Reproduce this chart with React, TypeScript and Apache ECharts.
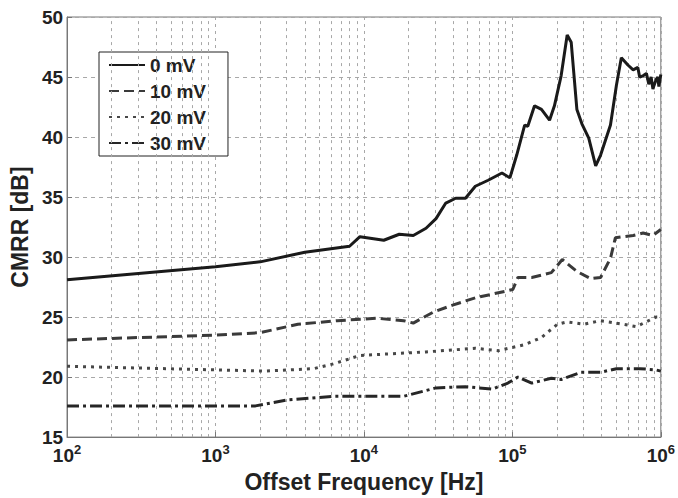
import React, { useEffect, useRef } from "react";
import * as echarts from "echarts";

const seriesNames = ["0 mV", "10 mV", "20 mV", "30 mV"];

const freq0 = [100, 1000, 2000, 4000, 8000, 9400, 13600, 17300, 21500, 26200, 30600, 35600, 41500, 48300, 56300, 68700, 85100, 96200, 107000, 121000, 127000, 141000, 157000, 178000, 192000, 213000, 234000, 249000, 272000, 294000, 327000, 364000, 393000, 458000, 502000, 542000, 600000, 651000, 700000, 720000, 759000, 800000, 830000, 860000, 885000, 900000, 930000, 955000, 970000, 1000000];
const cmrr0 = [28.1, 29.2, 29.6, 30.4, 30.9, 31.7, 31.4, 31.9, 31.8, 32.4, 33.2, 34.5, 34.9, 34.9, 35.9, 36.4, 37.0, 36.6, 38.5, 41.0, 40.9, 42.6, 42.3, 41.4, 42.6, 45.1, 48.5, 47.9, 42.3, 41.1, 39.9, 37.6, 38.5, 41.0, 44.3, 46.6, 46.0, 45.6, 45.8, 45.0, 45.1, 45.3, 44.4, 45.0, 44.0, 44.3, 44.8, 45.0, 44.2, 45.2];

const freq10 = [100, 1000, 2000, 3590, 6620, 12200, 18500, 21500, 29200, 39600, 56300, 93300, 100700, 109000, 135000, 183000, 217000, 272000, 338000, 393000, 458000, 494000, 560000, 651000, 760000, 885000, 1000000];
const cmrr10 = [23.1, 23.5, 23.7, 24.4, 24.7, 24.9, 24.7, 24.5, 25.4, 26.0, 26.6, 27.2, 27.3, 28.3, 28.3, 28.7, 29.8, 28.8, 28.2, 28.3, 29.9, 31.6, 31.7, 31.8, 32.0, 31.8, 32.3];

const freq20 = [100, 461, 2130, 4580, 6220, 9400, 26200, 56300, 80200, 121000, 157000, 201000, 234000, 303000, 393000, 559000, 683000, 927000, 1000000];
const cmrr20 = [20.9, 20.7, 20.5, 20.7, 21.1, 21.8, 22.1, 22.4, 22.2, 22.7, 23.3, 24.4, 24.6, 24.4, 24.7, 24.4, 24.2, 25.0, 25.0];

const freq30 = [100, 1860, 3080, 6310, 18500, 30600, 48300, 73100, 93300, 109000, 135000, 183000, 213000, 290000, 393000, 502000, 725000, 927000, 1000000];
const cmrr30 = [17.6, 17.6, 18.1, 18.4, 18.4, 19.1, 19.2, 19.0, 19.5, 20.0, 19.5, 19.9, 19.8, 20.4, 20.4, 20.7, 20.7, 20.6, 20.5];

const decades = [100, 1000, 10000, 100000];
const minorMultipliers = [2, 3, 4, 5, 6, 7, 8, 9];

const lineColors = ["#1a1a1a", "#3a3a3a", "#474747", "#262626"];
const dashTypes: any[] = ["solid", [10, 5], [3, 5], [12, 4, 3, 4]];

export default function App() {
  const ref = useRef<HTMLDivElement>(null);
  useEffect(() => {
    document.body.style.margin = "0";
    const chart = echarts.init(ref.current!, null, { renderer: "svg" });
    const font = "'Liberation Sans', Arial, sans-serif";
    const xs = [freq0, freq10, freq20, freq30];
    const ys = [cmrr0, cmrr10, cmrr20, cmrr30];
    const minorLines: any[] = [];
    decades.forEach((d) => {
      minorMultipliers.forEach((m) => minorLines.push({ xAxis: d * m }));
    });
    const series: any[] = seriesNames.map((name, i) => ({
      name,
      type: "line",
      data: xs[i].map((f, j) => [f, ys[i][j]]),
      symbol: "none",
      lineStyle: { color: lineColors[i], width: 3, type: dashTypes[i] },
      itemStyle: { color: lineColors[i] },
      z: 5,
    }));
    series.push({
      name: "minor",
      type: "line",
      data: [],
      silent: true,
      markLine: {
        silent: true,
        symbol: "none",
        label: { show: false },
        lineStyle: { color: "#a8a8a8", type: [3, 4], width: 1 },
        data: minorLines,
      },
    });
    chart.setOption({
      animation: false,
      backgroundColor: "#ffffff",
      grid: {
        left: 66,
        right: 10,
        top: 17,
        bottom: 57,
        show: true,
        borderColor: "#777",
        borderWidth: 1,
      },
      legend: {
        data: seriesNames,
        orient: "vertical",
        left: 99,
        top: 52,
        itemWidth: 36,
        itemHeight: 14,
        itemGap: 6,
        padding: [3, 22, 3, 9],
        backgroundColor: "#fff",
        borderColor: "#222",
        borderWidth: 1,
        borderRadius: 0,
        itemStyle: { opacity: 0, borderWidth: 0 },
        textStyle: { fontFamily: font, fontWeight: "bold", fontSize: 19, lineHeight: 20, color: "#222" },
      },
      xAxis: {
        type: "log",
        logBase: 10,
        min: 100,
        max: 1000000,
        name: "Offset Frequency [Hz]",
        nameLocation: "middle",
        nameGap: 23,
        nameTextStyle: { fontFamily: font, fontWeight: "bold", fontSize: 23, color: "#222" },
        axisLine: { lineStyle: { color: "#777", width: 1 } },
        axisTick: { inside: true, length: 5, lineStyle: { color: "#777" } },
        axisLabel: {
          margin: 6,
          formatter: (v: number) => `{b|10}{s|${Math.round(Math.log10(v))}}`,
          rich: {
            b: { fontFamily: font, fontWeight: "bold", fontSize: 19, color: "#222", lineHeight: 22, verticalAlign: "bottom" },
            s: { fontFamily: font, fontWeight: "bold", fontSize: 13, color: "#222", lineHeight: 13, verticalAlign: "top" },
          },
        },
        splitLine: { show: true, lineStyle: { color: "#a8a8a8", type: [3, 4], width: 1 } },
      },
      yAxis: {
        type: "value",
        min: 15,
        max: 50,
        interval: 5,
        name: "CMRR [dB]",
        nameLocation: "middle",
        nameGap: 32,
        nameTextStyle: { fontFamily: font, fontWeight: "bold", fontSize: 23, color: "#222" },
        axisLine: { show: true, lineStyle: { color: "#777", width: 1 } },
        axisTick: { show: true, inside: true, length: 5, lineStyle: { color: "#777" } },
        axisLabel: { margin: 4, fontFamily: font, fontWeight: "bold", fontSize: 19, lineHeight: 12, color: "#222" },
        splitLine: { show: true, lineStyle: { color: "#a8a8a8", type: [4, 4], width: 1 } },
      },
      series,
    });
    return () => chart.dispose();
  }, []);
  return <div ref={ref} style={{ width: 678, height: 498 }} />;
}
